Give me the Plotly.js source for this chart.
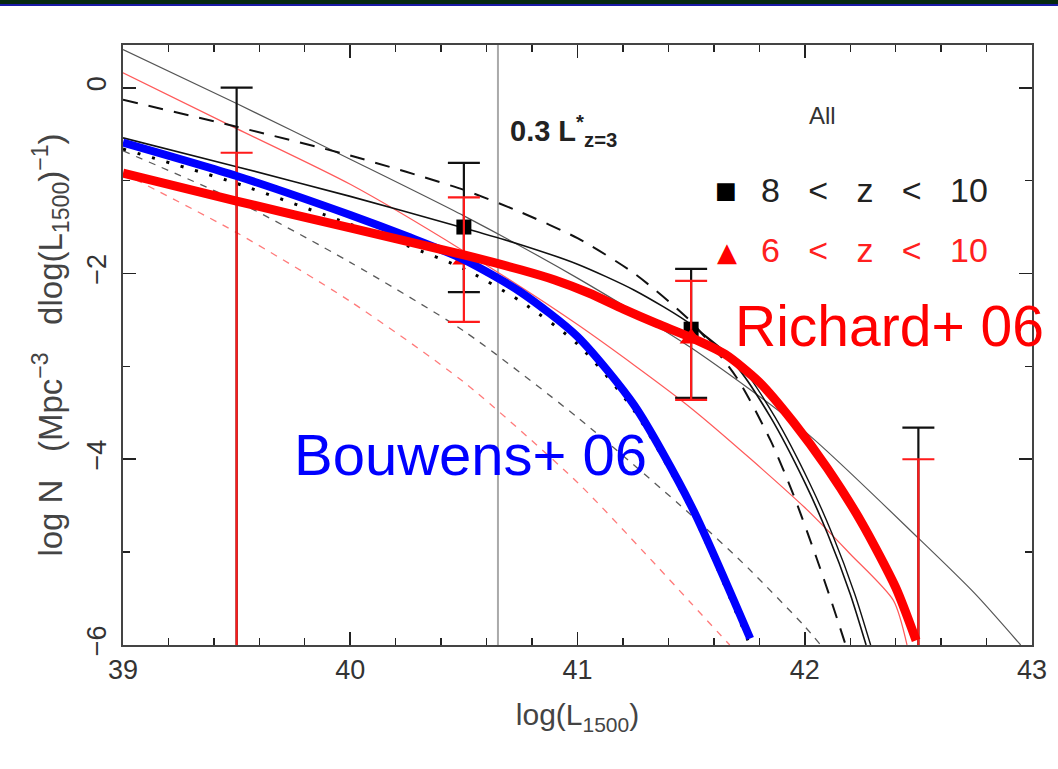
<!DOCTYPE html>
<html>
<head>
<meta charset="utf-8">
<script src="https://cdn.plot.ly/plotly-3.0.1.min.js"></script>
<style>
  html, body { margin: 0; padding: 0; background: #fff; }
  #topbar { position: absolute; left: 0; top: 0; width: 1058px; height: 4px; background: #062a10; border-bottom: 2px solid #1b1ba6; z-index: 5; }
  #chart { width: 1058px; height: 769px; }
</style>
</head>
<body>
<div id="topbar"></div>
<div id="chart"></div>
<script>
// ---- data ----
// reference luminosity (0.3 L* at z=3)
const lstarX = 40.65;

// 8 < z < 10 points (black): error-bar tops, bottoms, and point values
const blackX   = [39.5, 40.5, 41.5, 42.5];
const blackHi  = [0.0, -0.81, -1.95, -3.66];
const blackLo  = [-7.0, -2.20, -3.34, -7.0];
const blackPt  = [null, -1.50, -2.60, null];

// 6 < z < 10 points (red)
const redX   = [39.5, 40.5, 41.5, 42.5];
const redHi  = [-0.70, -1.18, -2.08, -4.00];
const redLo  = [-7.0, -2.52, -3.36, -7.0];
const redPt  = [null, -1.85, -2.70, null];

// thin grey solid model
const modelA_x = [39.0, 39.5, 40.0, 40.5, 41.0, 41.5, 42.0, 42.5, 42.75, 42.95];
const modelA_y = [0.41, -0.17, -0.77, -1.38, -2.05, -2.80, -3.70, -4.85, -5.45, -6.0];

// long-dash black model
const modelB_x = [39.0, 39.5, 40.0, 40.5, 40.75, 41.0, 41.25, 41.5, 41.7, 41.85, 41.95, 42.05, 42.12, 42.18];
const modelB_y = [-0.13, -0.42, -0.73, -1.10, -1.34, -1.62, -2.00, -2.52, -3.12, -3.80, -4.38, -5.05, -5.55, -6.0];

// black solid model
const modelC_x = [39.0, 39.5, 40.0, 40.5, 40.75, 41.0, 41.25, 41.5, 41.7, 41.85, 42.0, 42.1, 42.2, 42.27];
const modelC_y = [-0.54, -0.85, -1.17, -1.51, -1.69, -1.90, -2.18, -2.55, -3.00, -3.55, -4.25, -4.80, -5.45, -6.0];

// second black solid model (splits from the first near 41.5)
const modelC2_x = [41.5, 41.72, 41.87, 42.02, 42.12, 42.22, 42.29];
const modelC2_y = [-2.55, -3.00, -3.55, -4.25, -4.80, -5.45, -6.0];

// dotted black model
const modelD_x = [39.0, 39.5, 40.0, 40.25, 40.5, 40.75, 41.0, 41.25, 41.5, 41.75];
const modelD_y = [-0.66, -1.03, -1.47, -1.70, -1.95, -2.30, -2.76, -3.48, -4.55, -5.95];

// short-dash grey model
const modelH_x = [39.0, 39.5, 40.0, 40.5, 41.0, 41.5, 41.75, 42.0, 42.07];
const modelH_y = [-0.68, -1.22, -1.88, -2.62, -3.55, -4.60, -5.17, -5.80, -6.0];

// thin red solid model
const modelG_x = [39.0, 39.5, 40.0, 40.5, 41.0, 41.5, 42.0, 42.2, 42.39, 42.45];
const modelG_y = [0.16, -0.44, -1.04, -1.76, -2.55, -3.45, -4.52, -5.02, -5.52, -6.0];

// short-dash red model
const modelI_x = [39.0, 39.5, 40.0, 40.5, 41.0, 41.3, 41.5, 41.67];
const modelI_y = [-0.92, -1.56, -2.30, -3.17, -4.25, -5.02, -5.55, -6.0];

// Bouwens+06 (thick blue)
const bouwens_x = [39.0, 39.5, 40.0, 40.25, 40.5, 40.75, 41.0, 41.25, 41.5, 41.76];
const bouwens_y = [-0.59, -0.95, -1.37, -1.60, -1.85, -2.20, -2.68, -3.42, -4.50, -5.93];

// Richard+06 (thick red)
const richard_x = [39.0, 39.5, 40.0, 40.5, 40.75, 40.9, 41.05, 41.2, 41.35, 41.5, 41.65, 41.8, 41.95, 42.1, 42.25, 42.4, 42.49];
const richard_y = [-0.92, -1.22, -1.51, -1.80, -1.96, -2.07, -2.21, -2.38, -2.54, -2.69, -2.87, -3.17, -3.60, -4.10, -4.68, -5.38, -5.95];

// axis ticks
const xTickVals = [39, 40, 41, 42, 43];
const yTickVals = [-6, -4, -2, 0];
const yTickText = ['\u22126', '\u22124', '\u22122', '0'];

// ---- traces ----
function diff(a, b) { return a.map((v, i) => v - b[i]); }
function zeros(a) { return a.map(() => 0); }

const traces = [];
function curve(x, y, color, width, dash) {
  traces.push({
    x: x, y: y, type: 'scatter', mode: 'lines', hoverinfo: 'skip', showlegend: false,
    line: { color: color, width: width, dash: dash || 'solid', shape: 'spline', smoothing: 0.7 }
  });
}

curve(modelI_x, modelI_y, '#ff7a7a', 1.3, '7px,7px');
curve(modelH_x, modelH_y, '#5a5a5a', 1.3, '7px,7px');
curve(modelA_x, modelA_y, '#555555', 1.2);
curve(modelG_x, modelG_y, '#ff5a5a', 1.2);
curve(modelB_x, modelB_y, '#111111', 2, '15px,11px');
curve(modelC_x, modelC_y, '#111111', 1.6);
curve(modelC2_x, modelC2_y, '#111111', 1.4);
curve(modelD_x, modelD_y, '#000000', 3, '3px,12px');

// error bars + markers
traces.push({
  x: blackX, y: blackHi, type: 'scatter', mode: 'markers', hoverinfo: 'skip', showlegend: false,
  marker: { size: 1, opacity: 0 },
  error_y: { type: 'data', symmetric: false, array: zeros(blackHi), arrayminus: diff(blackHi, blackLo),
             color: '#111111', thickness: 2.2, width: 16 }
});
traces.push({
  x: blackX, y: blackPt, type: 'scatter', mode: 'markers', hoverinfo: 'skip', showlegend: false,
  marker: { symbol: 'square', size: 15, color: '#000000' }
});
traces.push({
  x: redX, y: redHi, type: 'scatter', mode: 'markers', hoverinfo: 'skip', showlegend: false,
  marker: { size: 1, opacity: 0 },
  error_y: { type: 'data', symmetric: false, array: zeros(redHi), arrayminus: diff(redHi, redLo),
             color: '#ff1a1a', thickness: 2.2, width: 16 }
});
traces.push({
  x: redX, y: redPt, type: 'scatter', mode: 'markers', hoverinfo: 'skip', showlegend: false,
  marker: { symbol: 'triangle-up', size: 20, color: '#ff0000' }
});

curve(bouwens_x, bouwens_y, '#0000ff', 8);
curve(richard_x, richard_y, '#ff0000', 9);

const fam = 'Liberation Sans, Arial, sans-serif';
const tickFont = { family: fam, size: 27, color: '#333' };

const layout = {
  width: 1058, height: 769,
  margin: { l: 123, r: 26, t: 45, b: 124 },
  paper_bgcolor: '#ffffff', plot_bgcolor: '#ffffff',
  showlegend: false,
  xaxis: {
    range: [39, 43], showgrid: false, zeroline: false,
    showline: true, linecolor: '#444', linewidth: 2, mirror: 'ticks',
    ticks: 'inside', ticklen: 13, tickwidth: 1.6, tickcolor: '#222',
    tickvals: xTickVals, tickfont: tickFont, ticklabelstandoff: 0,
    minor: { ticks: 'inside', dtick: 0.2, ticklen: 7, tickwidth: 1.4, tickcolor: '#222', showgrid: false },
    title: { text: 'log(L<sub>1500</sub>)', font: { family: fam, size: 30, color: '#444' }, standoff: 20 }
  },
  yaxis: {
    range: [-6, 0.46], showgrid: false, zeroline: false,
    showline: true, linecolor: '#444', linewidth: 2, mirror: 'ticks',
    ticks: 'inside', ticklen: 13, tickwidth: 1.6, tickcolor: '#222',
    tickvals: yTickVals, ticktext: yTickText, tickangle: -90, tickfont: tickFont, ticklabelstandoff: 4,
    minor: { ticks: 'inside', dtick: 1, ticklen: 7, tickwidth: 1.4, tickcolor: '#222', showgrid: false },
    title: { text: 'log\u00a0N\u00a0\u00a0\u00a0(Mpc<sup>\u22123</sup>\u00a0\u00a0\u00a0dlog(L<sub>1500</sub>)<sup>\u22121</sup>)', font: { family: fam, size: 33, color: '#444' }, standoff: 10 }
  },
  shapes: [
    { type: 'line', xref: 'x', yref: 'paper', x0: lstarX, x1: lstarX, y0: 0, y1: 1,
      line: { color: '#aaaaaa', width: 2 }, layer: 'below' }
  ],
  annotations: [
    { xref: 'paper', yref: 'paper', x: 0.424, y: 0.856, xanchor: 'left', yanchor: 'middle', showarrow: false,
      text: '<b>0.3 L<sup>*</sup><sub>z=3</sub></b>', font: { family: fam, size: 29, color: '#222' } },
    { xref: 'paper', yref: 'paper', x: 0.770, y: 0.882, xanchor: 'center', yanchor: 'middle', showarrow: false,
      text: 'All', font: { family: fam, size: 24, color: '#333' } },
    { xref: 'paper', yref: 'paper', x: 0.663, y: 0.758, xanchor: 'center', yanchor: 'middle', showarrow: false,
      text: '\u25A0', font: { family: 'DejaVu Sans, sans-serif', size: 23, color: '#000' } },
    { xref: 'paper', yref: 'paper', x: 0.700, y: 0.758, xanchor: 'left', yanchor: 'middle', showarrow: false,
      text: '8\u00a0\u00a0\u00a0<\u00a0\u00a0\u00a0z\u00a0\u00a0\u00a0<\u00a0\u00a0\u00a010', font: { family: fam, size: 34, color: '#222' } },
    { xref: 'paper', yref: 'paper', x: 0.664, y: 0.655, xanchor: 'center', yanchor: 'middle', showarrow: false,
      text: '\u25B2', font: { family: 'DejaVu Sans, sans-serif', size: 26, color: '#ff0000' } },
    { xref: 'paper', yref: 'paper', x: 0.700, y: 0.658, xanchor: 'left', yanchor: 'middle', showarrow: false,
      text: '6\u00a0\u00a0\u00a0<\u00a0\u00a0\u00a0z\u00a0\u00a0\u00a0<\u00a0\u00a0\u00a010', font: { family: fam, size: 34, color: '#ff2020' } },
    { xref: 'paper', yref: 'paper', x: 0.843, y: 0.532, xanchor: 'center', yanchor: 'middle', showarrow: false,
      text: 'Richard+ 06', font: { family: fam, size: 57, color: '#ff0000' } },
    { xref: 'paper', yref: 'paper', x: 0.382, y: 0.317, xanchor: 'center', yanchor: 'middle', showarrow: false,
      text: 'Bouwens+ 06', font: { family: fam, size: 58, color: '#0000ff' } }
  ]
};

Plotly.newPlot('chart', traces, layout, { displayModeBar: false, staticPlot: true });
</script>
</body>
</html>
